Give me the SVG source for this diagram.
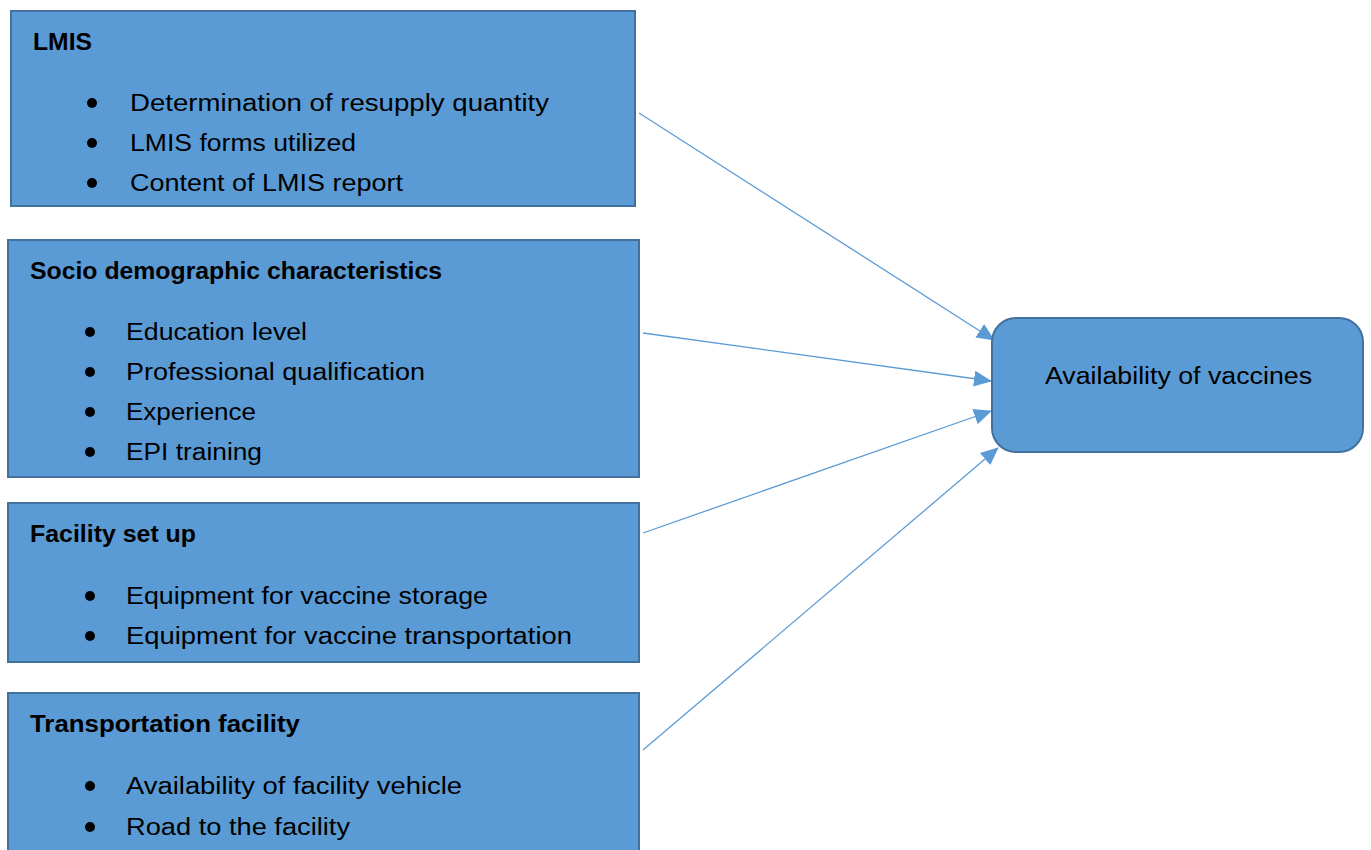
<svg xmlns="http://www.w3.org/2000/svg" width="1371" height="850" viewBox="0 0 1371 850">
  <style>
    .box { fill: #5b9bd5; stroke: #41719c; stroke-width: 2; }
    .hd { font-family: "Liberation Sans", Arial, sans-serif; font-size: 23px; font-weight: bold; fill: #000; }
    .it { font-family: "Liberation Sans", Arial, sans-serif; font-size: 23px; fill: #000; }
    .dot { fill: #000; }
    .conn { stroke: #5b9bd5; stroke-width: 1.3; fill: none; marker-end: url(#arr); }
  </style>
  <defs>
    <marker id="arr" markerUnits="userSpaceOnUse" markerWidth="18" markerHeight="16" refX="17" refY="8" orient="auto">
      <path d="M0,0 L18,8 L0,16 Z" fill="#5b9bd5"/>
    </marker>
  </defs>
  <rect width="1371" height="850" fill="#fff"/>

  <g id="connectors">
    <line class="conn" x1="639" y1="113" x2="994" y2="340"/>
    <line class="conn" x1="643" y1="333" x2="991" y2="381"/>
    <line class="conn" x1="643" y1="533" x2="991" y2="411"/>
    <line class="conn" x1="643" y1="750" x2="998" y2="448"/>
  </g>

  <g id="lmis">
    <rect class="box" x="11" y="11" width="624" height="195"/>
    <text class="hd" x="33" y="50" textLength="59" lengthAdjust="spacingAndGlyphs">LMIS</text>
    <circle class="dot" cx="92" cy="103" r="5"/>
    <circle class="dot" cx="92" cy="143" r="5"/>
    <circle class="dot" cx="92" cy="183" r="5"/>
    <text class="it" x="130" y="111" textLength="419" lengthAdjust="spacingAndGlyphs">Determination of resupply quantity</text>
    <text class="it" x="130" y="151" textLength="226" lengthAdjust="spacingAndGlyphs">LMIS forms utilized</text>
    <text class="it" x="130" y="191" textLength="273" lengthAdjust="spacingAndGlyphs">Content of LMIS report</text>
  </g>

  <g id="socio">
    <rect class="box" x="8" y="240" width="631" height="237"/>
    <text class="hd" x="30" y="279" textLength="412" lengthAdjust="spacingAndGlyphs">Socio demographic characteristics</text>
    <circle class="dot" cx="90" cy="332" r="5"/>
    <circle class="dot" cx="90" cy="372" r="5"/>
    <circle class="dot" cx="90" cy="412" r="5"/>
    <circle class="dot" cx="90" cy="452" r="5"/>
    <text class="it" x="126" y="340" textLength="181" lengthAdjust="spacingAndGlyphs">Education level</text>
    <text class="it" x="126" y="380" textLength="299" lengthAdjust="spacingAndGlyphs">Professional qualification</text>
    <text class="it" x="126" y="420" textLength="130" lengthAdjust="spacingAndGlyphs">Experience</text>
    <text class="it" x="126" y="460" textLength="136" lengthAdjust="spacingAndGlyphs">EPI training</text>
  </g>

  <g id="facility">
    <rect class="box" x="8" y="503" width="631" height="159"/>
    <text class="hd" x="30" y="542" textLength="166" lengthAdjust="spacingAndGlyphs">Facility set up</text>
    <circle class="dot" cx="90" cy="596" r="5"/>
    <circle class="dot" cx="90" cy="636" r="5"/>
    <text class="it" x="126" y="604" textLength="362" lengthAdjust="spacingAndGlyphs">Equipment for vaccine storage</text>
    <text class="it" x="126" y="644" textLength="446" lengthAdjust="spacingAndGlyphs">Equipment for vaccine transportation</text>
  </g>

  <g id="transport">
    <rect class="box" x="8" y="693" width="631" height="170"/>
    <text class="hd" x="30" y="732" textLength="270" lengthAdjust="spacingAndGlyphs">Transportation facility</text>
    <circle class="dot" cx="90" cy="786" r="5"/>
    <circle class="dot" cx="90" cy="827" r="5"/>
    <text class="it" x="126" y="794" textLength="336" lengthAdjust="spacingAndGlyphs">Availability of facility vehicle</text>
    <text class="it" x="126" y="835" textLength="224" lengthAdjust="spacingAndGlyphs">Road to the facility</text>
  </g>

  <g id="availability">
    <rect class="box" x="992" y="318" width="371" height="134" rx="24" ry="24"/>
    <text class="it" x="1045" y="384" textLength="267" lengthAdjust="spacingAndGlyphs">Availability of vaccines</text>
  </g>
</svg>
